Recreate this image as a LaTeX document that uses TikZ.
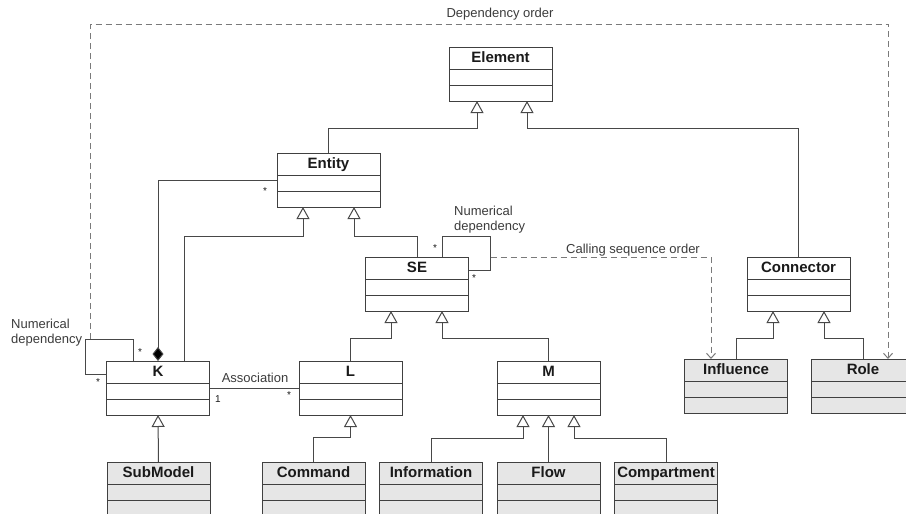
\documentclass[tikz,border=0pt]{standalone}
\usepackage{fontspec}
\setmainfont{Liberation Sans}
\usetikzlibrary{arrows.meta,calc}
\definecolor{boxline}{HTML}{404040}
\definecolor{conline}{HTML}{484848}
\definecolor{dashc}{HTML}{7A7A7A}
\definecolor{grayfill}{HTML}{E6E6E6}
\definecolor{txt}{HTML}{1A1A1A}
\tikzset{
 clsbox/.style={draw=boxline, line width=1pt, minimum width=103pt, minimum height=54pt, inner sep=0pt, outer sep=0pt, anchor=north},
 clstitle/.style={font=\fontsize{15}{18}\selectfont\bfseries, text=txt, anchor=base, inner sep=0pt},
 sepline/.style={draw=boxline, line width=1pt},
 gen/.style={draw=conline, line width=1pt, -{Triangle[open, width=13pt, length=12pt, fill=white]}},
 comp/.style={draw=conline, line width=1pt, -{Diamond[width=11pt, length=14pt, fill=black]}},
 assoc/.style={draw=conline, line width=1pt},
 depline/.style={draw=dashc, line width=1pt, dash pattern=on 6pt off 4pt, -{Straight Barb[length=5pt, width=9pt]}},
 lbl/.style={font=\fontsize{13}{15}\selectfont, text=txt!85, inner sep=0pt},
 mult/.style={font=\fontsize{10}{12}\selectfont, text=txt, inner sep=0pt},
}
\newcommand\umlcls[5]{%
 \node[clsbox, fill=#5] (#1) at (#2,#3) {};
 \node[clstitle] (#1-t) at ([yshift=-15.5pt]#1.north) {#4};
 \draw[sepline] ([yshift=-22pt]#1.north west) -- ([yshift=-22pt]#1.north east);
 \draw[sepline] ([yshift=-38pt]#1.north west) -- ([yshift=-38pt]#1.north east);
}
\begin{document}
\begin{tikzpicture}[x=1pt,y=-1pt]
\path[use as bounding box, clip] (0,0) rectangle (906,514);
\fill[white] (0,0) rectangle (906,514);
% classes
\umlcls{Element}{500.5}{47}{Element}{white}
\umlcls{Entity}{328.5}{153}{Entity}{white}
\umlcls{SE}{417}{257}{SE}{white}
\umlcls{Connector}{798.5}{257}{Connector}{white}
\umlcls{K}{158}{361}{K}{white}
\umlcls{L}{350.5}{361}{L}{white}
\umlcls{M}{548.5}{361}{M}{white}
\umlcls{Influence}{736}{359}{Influence}{grayfill}
\umlcls{Role}{863}{359}{Role}{grayfill}
\umlcls{SubModel}{158.5}{462}{SubModel}{grayfill}
\umlcls{Command}{313.5}{462}{Command}{grayfill}
\umlcls{Information}{431}{462}{Information}{grayfill}
\umlcls{Flow}{548.5}{462}{Flow}{grayfill}
\umlcls{Compartment}{666}{462}{Compartment}{grayfill}
% generalisations
\draw[gen] (Entity.north) -- ++(0,-25) -| ([xshift=-23.5pt]Element.south);
\draw[gen] (Connector.north) -- ++(0,-129) -| ([xshift=26.5pt]Element.south);
\draw[gen] ([xshift=26pt]K.north) -- ++(0,-125) -| ([xshift=-25.5pt]Entity.south);
\draw[gen] (SE.north) -- ++(0,-21) -| ([xshift=25.5pt]Entity.south);
\draw[gen] (L.north) -- ++(0,-23) -| ([xshift=-26pt]SE.south);
\draw[gen] (M.north) -- ++(0,-23) -| ([xshift=25pt]SE.south);
\draw[gen] (Influence.north) -- ++(0,-21) -| ([xshift=-25.5pt]Connector.south);
\draw[gen] (Role.north) -- ++(0,-21) -| ([xshift=25.5pt]Connector.south);
\draw[gen] (SubModel.north) -- (K.south);
\draw[gen] (Command.north) -- ++(0,-25) -| (L.south);
\draw[gen] (Information.north) -- ++(0,-24) -| ([xshift=-25.5pt]M.south);
\draw[gen] (Flow.north) -- (M.south);
\draw[gen] (Compartment.north) -- ++(0,-24) -| ([xshift=25.5pt]M.south);
% composition Entity - K
\draw[comp] (Entity.west) -| (K.north);
\node[mult] (m1) at (265,191) {*};
% association K - L
\draw[assoc] (K.east) -- (L.west);
\node[lbl] (assocl) at (255,378) {Association};
\node[mult] (m2) at (218,399) {1};
\node[mult] (m3) at (289,395) {*};
% self loop SE
\draw[assoc] ([xshift=25pt]SE.north) -- ++(0,-21) -- ++(48,0) |- ([yshift=14pt]SE.east);
\node[mult] (m4) at (435,248) {*};
\node[mult] (m5) at (474,278) {*};
\node[lbl, align=left, anchor=west] (nd1) at (454,220) {Numerical\\dependency};
% self loop K
\draw[assoc] ([xshift=-25pt]K.north) -- ++(0,-22) -- ++(-48,0) |- ([yshift=14pt]K.west);
\node[mult] (m6) at (140,352) {*};
\node[mult] (m7) at (98,382) {*};
\node[lbl, align=left, anchor=west] (nd2) at (11,333) {Numerical\\dependency};
% calling sequence order
\coordinate (cs) at ([xshift=22pt]SE.north east);
\draw[depline] (cs) -| ([xshift=-25pt]Influence.north);
\node[lbl] (csl) at (633,250) {Calling sequence order};
% dependency order
\coordinate (dep) at ([xshift=-16pt,yshift=22pt]K.north west);
\draw[depline] (dep) -- ++(0,-315) -| ([xshift=25pt]Role.north);
\node[lbl] (depl) at (500,14) {Dependency order};
\end{tikzpicture}
\end{document}
